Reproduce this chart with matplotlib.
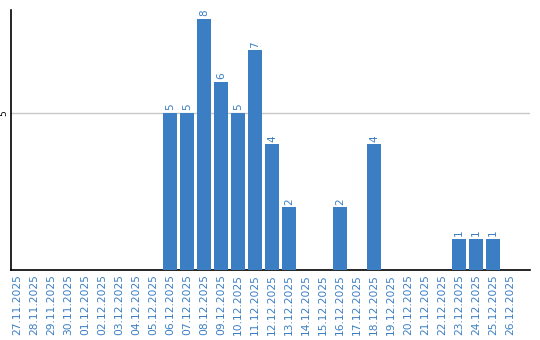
import matplotlib
matplotlib.use("Agg")
import matplotlib.pyplot as plt

dates = ["27.11.2025", "28.11.2025", "29.11.2025", "30.11.2025", "01.12.2025",
         "02.12.2025", "03.12.2025", "04.12.2025", "05.12.2025", "06.12.2025",
         "07.12.2025", "08.12.2025", "09.12.2025", "10.12.2025", "11.12.2025",
         "12.12.2025", "13.12.2025", "14.12.2025", "15.12.2025", "16.12.2025",
         "17.12.2025", "18.12.2025", "19.12.2025", "20.12.2025", "21.12.2025",
         "22.12.2025", "23.12.2025", "24.12.2025", "25.12.2025", "26.12.2025"]
counts = [0, 0, 0, 0, 0, 0, 0, 0, 0, 5,
          5, 8, 6, 5, 7, 4, 2, 0, 0, 2,
          0, 4, 0, 0, 0, 0, 1, 1, 1, 0]
y_ticks = [5]

C_BAR = '#3b7ec3'

fig = plt.figure(figsize=(5.4, 3.4), dpi=100)
ax = fig.add_axes([11 / 540, 70 / 340, 519 / 540, 260 / 340])

x = list(range(len(dates)))
ax.bar(x, counts, width=0.82, color=C_BAR, zorder=3)

for xi, v in zip(x, counts):
    if v > 0:
        ax.text(xi, v + 0.08, str(v), rotation=90, ha='center', va='bottom',
                fontsize=7.5, color=C_BAR, zorder=4)

ax.set_xlim(-0.37, 30.18)
ax.set_ylim(0, 8.28)
ax.set_xticks(x)
ax.set_xticklabels(dates, rotation=90, fontsize=7.7, color=C_BAR)
ax.set_yticks(y_ticks)
ax.set_yticklabels([str(t) for t in y_ticks], rotation=90, fontsize=6.5, va='center')
ax.tick_params(axis='both', length=0, pad=3)
ax.tick_params(axis='y', pad=2)
ax.grid(axis='y', color='#c8c8c8', linewidth=1, zorder=0)

ax.spines['top'].set_visible(False)
ax.spines['right'].set_visible(False)
ax.spines['left'].set_color('black')
ax.spines['bottom'].set_color('black')
ax.spines['left'].set_linewidth(1.2)
ax.spines['bottom'].set_linewidth(1.2)

fig.savefig("out.png", dpi=100, facecolor='white')
